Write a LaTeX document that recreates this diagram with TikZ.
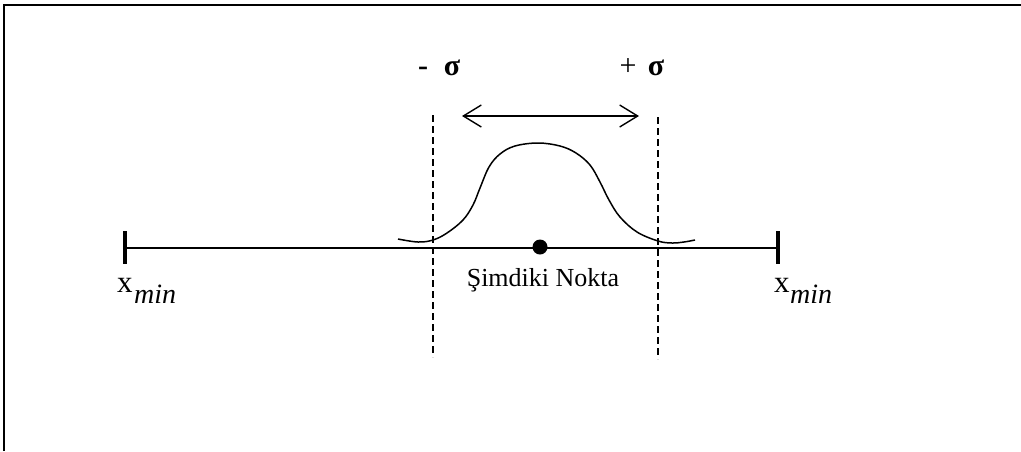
\documentclass[tikz,border=0pt]{standalone}
\usepackage{fontspec}
\setmainfont{Liberation Serif}
\usetikzlibrary{arrows.meta}
\begin{document}
\begin{tikzpicture}[x=1pt,y=-1pt,
  axis/.style={line width=1.8pt},
  tick/.style={line width=4.5pt},
  guide/.style={line width=1.1pt,dash pattern=on 7pt off 4pt},
  bell/.style={line width=1.5pt},
  span/.style={line width=1.4pt,{Straight Barb[length=18pt,width=22pt,line width=1.4pt]}-{Straight Barb[length=18pt,width=22pt,line width=1.4pt]}},
  lbl/.style={inner sep=0pt,font=\fontsize{26}{30}\selectfont},
  xl/.style={inner sep=0pt,font=\fontsize{31}{34}\selectfont},
  sub/.style={inner sep=0pt,font=\fontsize{28}{32}\selectfont\itshape},
  sig/.style={inner sep=0pt,font=\fontsize{30}{34}\selectfont\bfseries},
  pls/.style={inner sep=0pt,font=\fontsize{30}{34}\selectfont}]
\useasboundingbox (0,0) rectangle (1021,451);
\fill[white] (0,0) rectangle (1021,451);
% frame (top and left edges only)
\draw[line width=2.5pt] (4,451) -- (4,5) -- (1021,5);
% end ticks
\coordinate (lt) at (125,248);
\coordinate (rt) at (778,248);
\draw[tick] (125,231) -- (125,264);
\draw[tick] (778,231) -- (778,264);
\draw[axis] (lt) -- (rt);
% dashed sigma bounds
\coordinate (dlt) at (433,115);
\coordinate (dlb) at (433,357);
\coordinate (drt) at (658,117);
\coordinate (drb) at (658,359);
\draw[guide] (dlt) -- (dlb);
\draw[guide] (drt) -- (drb);
% bell curve
\draw[bell] plot[smooth,tension=0.6] coordinates {(398,239) (418,242) (433,240) (447,233) (463,220) (473,205) (480,188) (489,167) (500,154) (515,146) (538,143) (560,146) (576,153) (590,165) (600,182) (609,200) (620,217) (637,232) (658,241) (672,243) (684,242) (695,240)};
% current point
\node[circle,fill=black,minimum size=15pt,inner sep=0pt] (pt) at (540,247) {};
\node[lbl] (cur) at (543,280) {Şimdiki Nokta};
% double arrow
\coordinate (al) at (462,116);
\coordinate (ar) at (639,116);
\draw[span] (al) -- (ar);
% sigma labels
\node[sig,anchor=base] (ms) at (423,75) {-};
\node[sig,anchor=base] (msig) at (452,75) {σ};
\node[pls,anchor=base] (ps) at (628,75) {+};
\node[sig,anchor=base] (psig) at (656,75) {σ};
% x_min labels
\node[xl,anchor=base west] (xl) at (117,292) {x};
\node[sub,anchor=base west] (ml) at (134,303) {min};
\node[xl,anchor=base west] (xr) at (774,292) {x};
\node[sub,anchor=base west] (mr) at (790,303) {min};
\end{tikzpicture}
\end{document}
